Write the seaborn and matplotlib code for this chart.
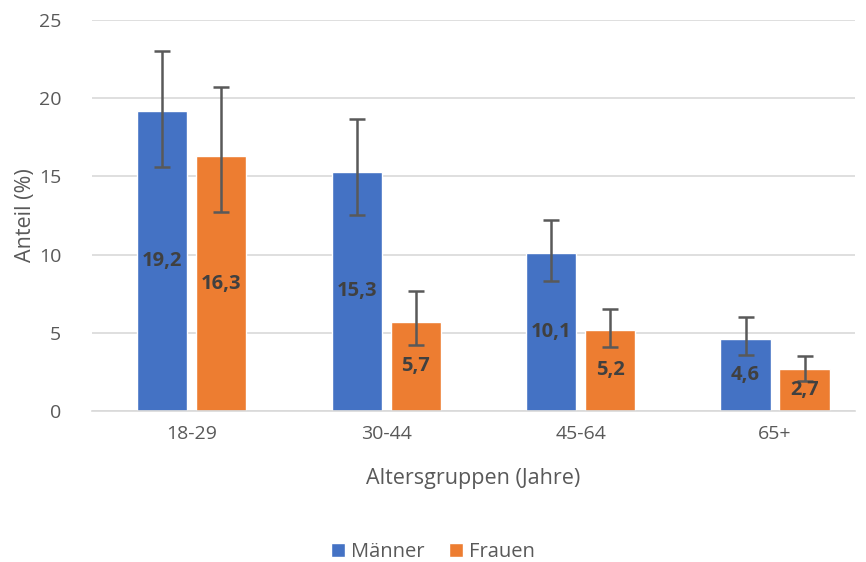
import matplotlib
matplotlib.use("Agg")
import matplotlib.pyplot as plt
from matplotlib.patches import Patch
import seaborn as sns
import pandas as pd
import numpy as np

# data
groups = ["18-29", "30-44", "45-64", "65+"]
series = ["Männer", "Frauen"]
maenner = [19.2, 15.3, 10.1, 4.6]
frauen = [16.3, 5.7, 5.2, 2.7]
maenner_lo = [15.6, 12.5, 8.3, 3.6]
maenner_hi = [23.0, 18.7, 12.2, 6.0]
frauen_lo = [12.7, 4.2, 4.1, 1.9]
frauen_hi = [20.7, 7.7, 6.5, 3.5]

colors = ["#4472C4", "#ED7D31"]
text_col = "#595959"

df = pd.DataFrame({
    "Altersgruppe": groups * 2,
    "Geschlecht": [series[0]] * 4 + [series[1]] * 4,
    "Anteil": maenner + frauen,
})

sns.set_style("white")
plt.rcParams["font.family"] = ["Open Sans", "DejaVu Sans"]

fig = plt.figure(figsize=(8.66, 5.62), dpi=100)
ax = fig.add_axes([0.106, 0.2687, 0.881, 0.6957])

sns.barplot(data=df, x="Altersgruppe", y="Anteil", hue="Geschlecht",
            order=groups, hue_order=series, palette=colors,
            width=0.607, gap=0.15, errorbar=None, legend=False,
            saturation=1, ax=ax, zorder=2)

lows = [maenner_lo, frauen_lo]
highs = [maenner_hi, frauen_hi]
vals = [maenner, frauen]
for cont, lo, hi, v in zip(ax.containers, lows, highs, vals):
    xs = [p.get_x() + p.get_width() / 2 for p in cont.patches]
    v = np.array(v)
    yerr = [v - np.array(lo), np.array(hi) - v]
    ax.errorbar(xs, v, yerr=yerr, fmt="none", ecolor="#595959",
                elinewidth=1.8, capsize=6, capthick=1.8, zorder=3)
    for x, val in zip(xs, v):
        ax.text(x, val / 2, f"{val:.1f}".replace(".", ","), ha="center",
                va="center", fontsize=14.5, fontweight="bold",
                color="#404040", zorder=4)

ax.set_ylim(0, 25)
ax.set_yticks([0, 5, 10, 15, 20, 25])
ax.set_xlim(-0.514, 3.41)
ax.yaxis.grid(True, color="#D9D9D9", linewidth=1.2, zorder=0)
ax.set_axisbelow(True)
for s in ["top", "right", "left"]:
    ax.spines[s].set_visible(False)
ax.spines["bottom"].set_color("#D9D9D9")
ax.spines["bottom"].set_linewidth(1.2)
ax.tick_params(axis="both", length=0, labelsize=14, labelcolor=text_col, pad=10)
ax.tick_params(axis="y", pad=22)
ax.set_xlabel("Altersgruppen (Jahre)", fontsize=15.5, color=text_col, labelpad=18)
ax.set_ylabel("Anteil (%)", fontsize=15.5, color=text_col, labelpad=2)

handles = [Patch(facecolor=c, label=s) for c, s in zip(colors, series)]
fig.legend(handles=handles, loc="center", bbox_to_anchor=(0.5, 0.018),
           ncol=2, frameon=False, fontsize=14.5, handlelength=0.7,
           handleheight=0.7, handletextpad=0.3, columnspacing=1.2,
           labelcolor=text_col)

fig.savefig("out.png", dpi=100)
